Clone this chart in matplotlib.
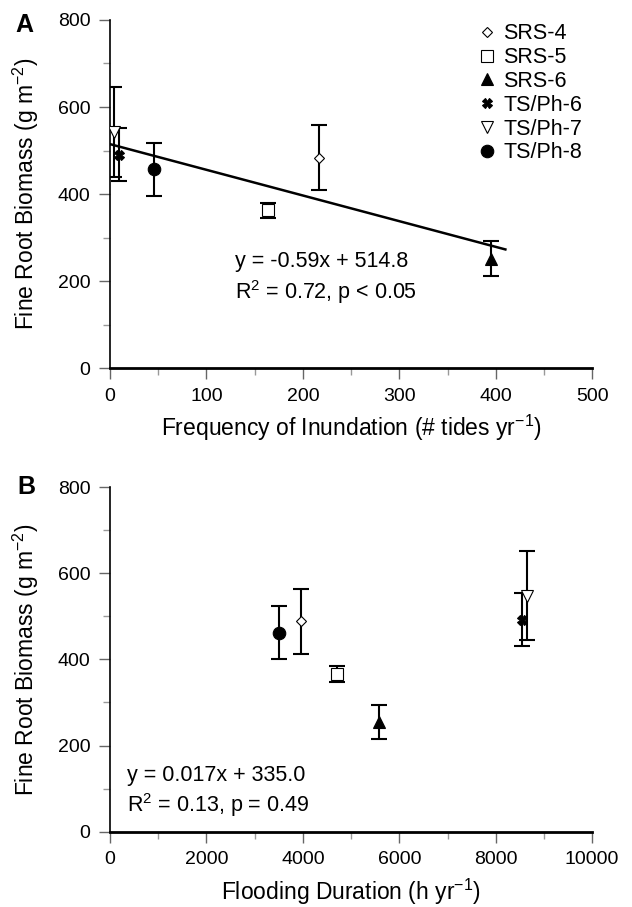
import numpy as np
import matplotlib
matplotlib.use('Agg')
import matplotlib.pyplot as plt
from matplotlib.ticker import MultipleLocator

plt.rcParams['font.family'] = ['Liberation Sans', 'DejaVu Sans']
plt.rcParams['mathtext.fontset'] = 'custom'
plt.rcParams['mathtext.rm'] = 'Liberation Sans'

sites = ['SRS-4', 'SRS-5', 'SRS-6', 'TS/Ph-6', 'TS/Ph-7', 'TS/Ph-8']
markers = ['D', 's', '^', 'X', 'v', 'o']
filled = [False, False, True, True, False, True]
msizes = [6, 8, 8, 7, 8, 9]

# panel A: frequency of inundation (# tides / yr)
freq = [217, 164, 395, 9, 4, 46]
# panel B: flooding duration (h / yr)
duration = [3960, 4700, 5580, 8550, 8640, 3510]
biomass_a = [484, 363, 252, 490, 542, 457]
err_a = [75, 17, 40, 61, 103, 61]
biomass_b = [488, 366, 254, 492, 548, 462]
err_b = [75, 18, 39, 62, 103, 61]

slope, intercept = -0.59, 514.8
line_x = [0, 410]

fig = plt.figure(figsize=(6.32, 9.07), dpi=100)
ax_a = fig.add_axes([0.174, 0.594, 0.763, 0.384])
ax_b = fig.add_axes([0.174, 0.083, 0.763, 0.380])


def draw_points(ax, xs, ys, errs):
    for i in range(len(sites)):
        ax.errorbar(xs[i], ys[i], yerr=errs[i], fmt='none', ecolor='black',
                    elinewidth=1.5, capsize=6, capthick=1.5, zorder=2)
        ms = msizes[i] * (0.8 if markers[i] == 'D' else 1)
        ax.plot(xs[i], ys[i], linestyle='none', marker=markers[i],
                markersize=ms,
                markerfacecolor='black' if filled[i] else 'white',
                markeredgecolor='black', markeredgewidth=0.8,
                label=sites[i], zorder=3)


def style_axis(ax, xmax, xmajor, xminor):
    ax.set_xlim(0, xmax)
    ax.set_ylim(0, 800)
    ax.xaxis.set_major_locator(MultipleLocator(xmajor))
    ax.xaxis.set_minor_locator(MultipleLocator(xminor))
    ax.yaxis.set_major_locator(MultipleLocator(200))
    ax.yaxis.set_minor_locator(MultipleLocator(100))
    ax.spines['top'].set_visible(False)
    ax.spines['right'].set_visible(False)
    ax.spines['left'].set_linewidth(1.2)
    ax.spines['bottom'].set_linewidth(2)
    ax.tick_params(which='major', direction='out', length=8, width=1,
                   color='#666666', labelsize=14, pad=6)
    ax.tick_params(which='minor', direction='out', length=5, width=1,
                   color='#999999')
    ax.set_ylabel('Fine Root Biomass (g m$^{-2}$)', fontsize=16.5, labelpad=12)


# Panel A
draw_points(ax_a, freq, biomass_a, err_a)
fit_y = [intercept + slope * x for x in line_x]
ax_a.plot(line_x, fit_y, color='black', linewidth=1.8, zorder=1)
style_axis(ax_a, 500, 100, 50)
ax_a.set_xlabel('Frequency of Inundation (# tides yr$^{-1}$)', fontsize=16.5,
                labelpad=6)
ax_a.text(130, 232, 'y = -0.59x + 514.8', fontsize=15.5)
ax_a.text(130, 160, 'R$^2$ = 0.72, p < 0.05', fontsize=15.5)
ax_a.legend(loc='upper left', bbox_to_anchor=(0.755, 0.99), frameon=False,
            fontsize=15.5, handletextpad=0.15, labelspacing=0.13,
            handlelength=1.2, borderaxespad=0, borderpad=0)
fig.text(0.024, 0.972, 'A', fontsize=18, fontweight='bold', va='center')

# Panel B
draw_points(ax_b, duration, biomass_b, err_b)
style_axis(ax_b, 10000, 2000, 1000)
ax_b.set_xlabel('Flooding Duration (h yr$^{-1}$)', fontsize=16.5, labelpad=6)
ax_b.text(350, 118, 'y = 0.017x + 335.0', fontsize=15.5)
ax_b.text(350, 46, 'R$^2$ = 0.13, p = 0.49', fontsize=15.5)
fig.text(0.028, 0.463, 'B', fontsize=18, fontweight='bold', va='center')

fig.savefig('out.png', dpi=100)
